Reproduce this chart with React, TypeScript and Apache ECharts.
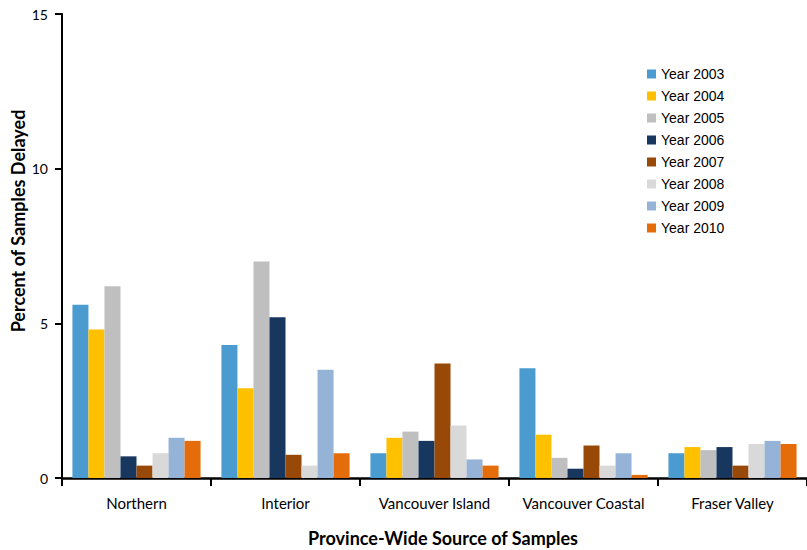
import React, { useEffect, useRef } from "react";
import * as echarts from "echarts";

const categories = ["Northern", "Interior", "Vancouver Island", "Vancouver Coastal", "Fraser Valley"];
const seriesNames = ["Year 2003", "Year 2004", "Year 2005", "Year 2006", "Year 2007", "Year 2008", "Year 2009", "Year 2010"];
const y2003 = [5.6, 4.3, 0.8, 3.55, 0.8];
const y2004 = [4.8, 2.9, 1.3, 1.4, 1.0];
const y2005 = [6.2, 7.0, 1.5, 0.65, 0.9];
const y2006 = [0.7, 5.2, 1.2, 0.3, 1.0];
const y2007 = [0.4, 0.75, 3.7, 1.05, 0.4];
const y2008 = [0.8, 0.4, 1.7, 0.4, 1.1];
const y2009 = [1.3, 3.5, 0.6, 0.8, 1.2];
const y2010 = [1.2, 0.8, 0.4, 0.1, 1.1];
const seriesValues = [y2003, y2004, y2005, y2006, y2007, y2008, y2009, y2010];
const colors = ["#4A9BD0", "#FFC000", "#BFBFBF", "#17375E", "#984807", "#D9D9D9", "#95B3D7", "#E46C0A"];
const yTicks = [0, 5, 10, 15];
const xTitle = "Province-Wide Source of Samples";
const yTitle = "Percent of Samples Delayed";

export default function App() {
  const ref = useRef<HTMLDivElement>(null);
  useEffect(() => {
    if (!ref.current) return;
    const chart = echarts.init(ref.current, undefined, { renderer: "svg" });
    chart.setOption({
      animation: false,
      backgroundColor: "#ffffff",
      color: colors,
      grid: { left: 62, right: 0, top: 14, bottom: 72, containLabel: false, outerBoundsMode: "none" },
      legend: {
        orient: "vertical",
        left: 642,
        top: 62,
        itemWidth: 9,
        itemHeight: 9,
        itemGap: 8,
        icon: "rect",
        textStyle: { fontFamily: "Liberation Sans, Arial", fontSize: 14, color: "#000" },
        data: seriesNames,
      },
      graphic: [
        {
          type: "text",
          x: 443,
          y: 538,
          style: {
            text: xTitle,
            fontFamily: "Lato, Noto Sans",
            fontWeight: "bold",
            fontSize: 18,
            fill: "#000",
            textAlign: "center",
            textVerticalAlign: "middle",
          },
        },
        {
          type: "text",
          x: 18,
          y: 221,
          rotation: Math.PI / 2,
          style: {
            text: yTitle,
            fontFamily: "Lato, Noto Sans",
            fontWeight: "bold",
            fontSize: 18,
            fill: "#000",
            textAlign: "center",
            textVerticalAlign: "middle",
          },
        },
      ],
      xAxis: {
        type: "category",
        data: categories,
        axisLine: { lineStyle: { color: "#000", width: 2.5 } },
        axisTick: { show: true, length: 8, lineStyle: { color: "#000", width: 2 } },
        axisLabel: { fontFamily: "Lato, Noto Sans", fontSize: 15, color: "#000", margin: 17, interval: 0 },
      },
      yAxis: {
        type: "value",
        min: 0,
        max: 15,
        interval: 5,
        axisLine: { show: true, lineStyle: { color: "#000", width: 2 } },
        axisTick: { show: true, length: 7, lineStyle: { color: "#000", width: 2 } },
        axisLabel: {
          fontFamily: "Lato, Noto Sans",
          fontSize: 14,
          color: "#000",
          margin: 14,
          formatter: (v: number) => (yTicks.includes(v) ? String(v) : ""),
        },
        splitLine: { show: false },
      },
      series: seriesNames.map((name, i) => ({
        name,
        type: "bar",
        data: seriesValues[i],
        barGap: "0%",
        barCategoryGap: "14%",
        itemStyle: { color: colors[i] },
      })),
    });
    return () => chart.dispose();
  }, []);
  return <div ref={ref} style={{ position: "absolute", left: 0, top: 0, width: 807, height: 550 }} />;
}
